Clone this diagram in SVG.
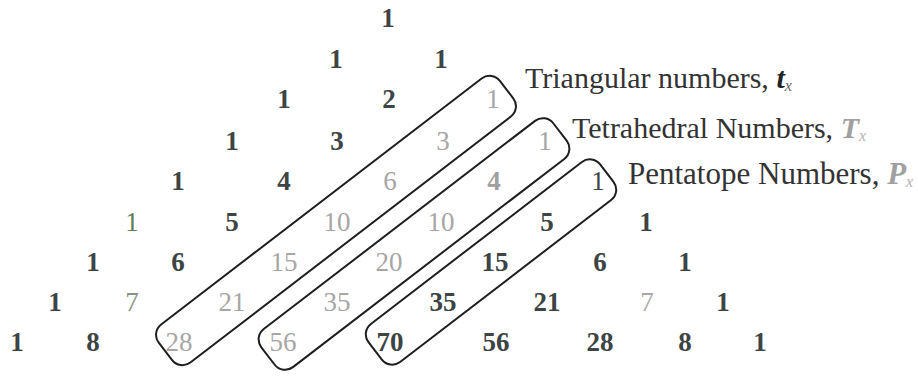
<svg xmlns="http://www.w3.org/2000/svg" width="918" height="376" viewBox="0 0 918 376">
<style>
text{font-family:"Liberation Serif","Times New Roman",serif;text-anchor:middle}
.n{font-size:27px}
.d{fill:#3c4444;font-weight:bold}
.g{fill:#a6a6a6}
.gb{fill:#a0a0a0;font-weight:bold}
.dr{fill:#3c4444}
.gr{fill:#5f7f55}
.gg{fill:#8a9282}
.lab{font-size:30px;fill:#333;text-anchor:start}
.box{fill:none;stroke:#1e1e1e;stroke-width:2}
</style>
<rect width="918" height="376" fill="#fff"/>
<g id="connectors">
<rect class="box" x="-215" y="-24" width="430" height="48" rx="13" transform="translate(336,220.5) rotate(-37.5)"/>
<rect class="box" x="-184" y="-24" width="368" height="48" rx="13" transform="translate(414,244) rotate(-37.5)"/>
<rect class="box" x="-146" y="-24" width="292" height="48" rx="13" transform="translate(491,262) rotate(-37.5)"/>
</g>
<g id="row0"><g id="n0_0"><text class="n d" x="388" y="27">1</text></g></g>
<g id="row1"><g id="n1_0"><text class="n d" x="336" y="68">1</text></g><g id="n1_1"><text class="n d" x="441" y="68">1</text></g></g>
<g id="row2"><g id="n2_0"><text class="n d" x="284" y="108">1</text></g><g id="n2_1"><text class="n d" x="389" y="108">2</text></g><g id="n2_2"><text class="n g" x="493" y="108">1</text></g></g>
<g id="row3"><g id="n3_0"><text class="n d" x="232" y="150">1</text></g><g id="n3_1"><text class="n d" x="337" y="150">3</text></g><g id="n3_2"><text class="n g" x="443" y="150">3</text></g><g id="n3_3"><text class="n g" x="545" y="150">1</text></g></g>
<g id="row4"><g id="n4_0"><text class="n d" x="178" y="190">1</text></g><g id="n4_1"><text class="n d" x="284" y="190">4</text></g><g id="n4_2"><text class="n g" x="390" y="190">6</text></g><g id="n4_3"><text class="n gb" x="494" y="190">4</text></g><g id="n4_4"><text class="n dr" x="598" y="190">1</text></g></g>
<g id="row5"><g id="n5_0"><text class="n gr" x="132" y="231">1</text></g><g id="n5_1"><text class="n d" x="232" y="231">5</text></g><g id="n5_2"><text class="n g" x="337" y="231">10</text></g><g id="n5_3"><text class="n g" x="441" y="231">10</text></g><g id="n5_4"><text class="n d" x="547" y="231">5</text></g><g id="n5_5"><text class="n d" x="646" y="231">1</text></g></g>
<g id="row6"><g id="n6_0"><text class="n d" x="93" y="271">1</text></g><g id="n6_1"><text class="n d" x="178" y="271">6</text></g><g id="n6_2"><text class="n g" x="284" y="271">15</text></g><g id="n6_3"><text class="n g" x="389" y="271">20</text></g><g id="n6_4"><text class="n d" x="495" y="271">15</text></g><g id="n6_5"><text class="n d" x="600" y="271">6</text></g><g id="n6_6"><text class="n d" x="685" y="271">1</text></g></g>
<g id="row7"><g id="n7_0"><text class="n d" x="55" y="311">1</text></g><g id="n7_1"><text class="n gg" x="132" y="311">7</text></g><g id="n7_2"><text class="n g" x="232" y="311">21</text></g><g id="n7_3"><text class="n g" x="337" y="311">35</text></g><g id="n7_4"><text class="n d" x="443" y="311">35</text></g><g id="n7_5"><text class="n d" x="547" y="311">21</text></g><g id="n7_6"><text class="n g" x="647" y="311">7</text></g><g id="n7_7"><text class="n d" x="723" y="311">1</text></g></g>
<g id="row8"><g id="n8_0"><text class="n d" x="17" y="351">1</text></g><g id="n8_1"><text class="n d" x="93" y="351">8</text></g><g id="n8_2"><text class="n g" x="179" y="351">28</text></g><g id="n8_3"><text class="n g" x="283" y="351">56</text></g><g id="n8_4"><text class="n d" x="390" y="351">70</text></g><g id="n8_5"><text class="n d" x="496" y="351">56</text></g><g id="n8_6"><text class="n d" x="600" y="351">28</text></g><g id="n8_7"><text class="n d" x="685" y="351">8</text></g><g id="n8_8"><text class="n d" x="760" y="351">1</text></g></g>
<g id="label-triangular"><text class="lab" x="525" y="88">Triangular numbers, <tspan font-weight="bold" font-style="italic" fill="#222">t</tspan><tspan font-size="16" font-style="italic" fill="#666" dy="3">x</tspan></text></g>
<g id="label-tetrahedral"><text class="lab" x="572" y="138">Tetrahedral Numbers, <tspan font-weight="bold" font-style="italic" fill="#a0a0a0">T</tspan><tspan font-size="16" font-style="italic" fill="#b0b0b0" dy="3">x</tspan></text></g>
<g id="label-pentatope"><text class="lab" x="628" y="184" style="font-size:31px">Pentatope Numbers, <tspan font-weight="bold" font-style="italic" fill="#a0a0a0">P</tspan><tspan font-size="16" font-style="italic" fill="#b0b0b0" dy="3">x</tspan></text></g>
</svg>
